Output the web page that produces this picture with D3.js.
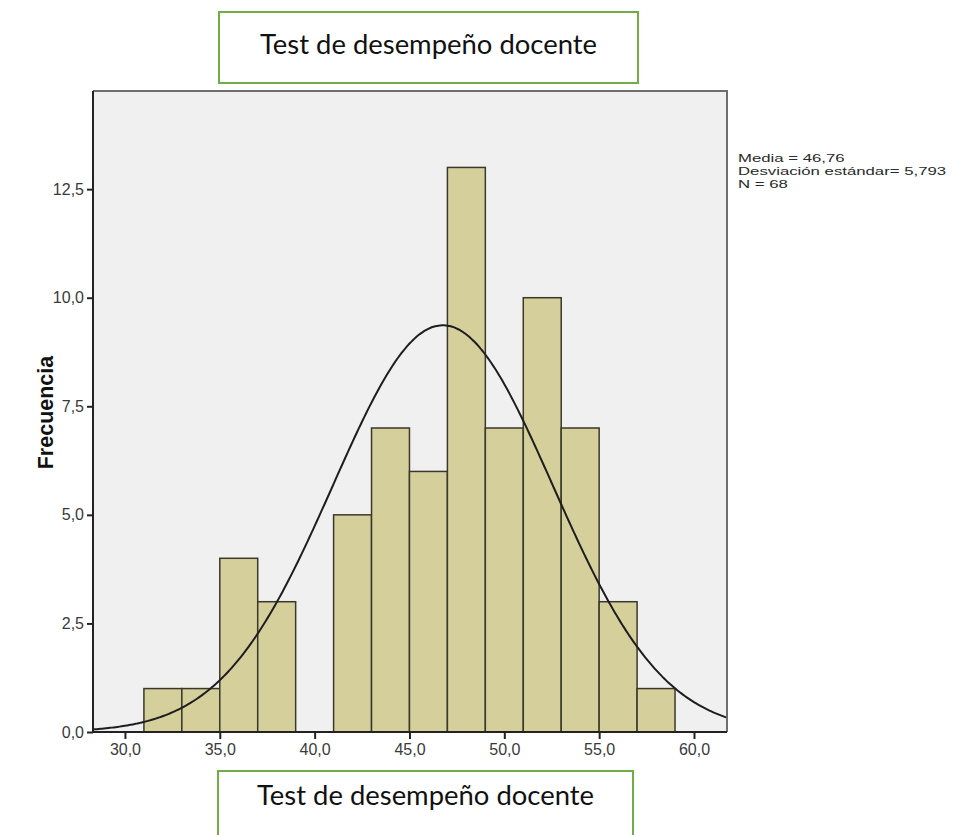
<!DOCTYPE html>
<html>
<head>
<meta charset="utf-8">
<script src="https://cdn.jsdelivr.net/npm/d3@7"></script>
<style>
  html, body { margin: 0; padding: 0; background: #fff; }
  svg { display: block; }
</style>
</head>
<body>
<svg id="chart" width="956" height="835"></svg>
<script>
// ---- data ----
const binStarts = [31, 33, 35, 37, 39, 41, 43, 45, 47, 49, 51, 53, 55, 57];
const counts    = [1, 1, 4, 3, 0, 5, 7, 6, 13, 7, 10, 7, 3, 1];
const binWidth = 2;
const xTicks = [30, 35, 40, 45, 50, 55, 60];
const yTicks = [0, 2.5, 5, 7.5, 10, 12.5];
const statMean = 46.76;
const statSd = 5.793;
const statN = 68;
const legendLines = ["Media = 46,76", "Desviación estándar= 5,793", "N = 68"];
const titleText = "Test de desempeño docente";
const yLabel = "Frecuencia";

// ---- layout ----
const svg = d3.select("#chart");
const plot = { left: 93, top: 91, right: 727, bottom: 732 };
const x = d3.scaleLinear().domain([28.316, 61.74]).range([plot.left, plot.right]);
const y = d3.scaleLinear().domain([0, 14.76]).range([plot.bottom, plot.top]);
const fmt = v => d3.format(".1f")(v).replace(".", ",");

// plot background
svg.append("rect")
  .attr("x", plot.left).attr("y", plot.top)
  .attr("width", plot.right - plot.left).attr("height", plot.bottom - plot.top)
  .attr("fill", "#f0f0f0");

// clip
svg.append("clipPath").attr("id", "clip").append("rect")
  .attr("x", plot.left).attr("y", plot.top)
  .attr("width", plot.right - plot.left).attr("height", plot.bottom - plot.top);

// bars
const bars = binStarts.map((s, i) => ({ s, c: counts[i] })).filter(d => d.c > 0);
svg.append("g").selectAll("rect").data(bars).join("rect")
  .attr("x", d => x(d.s))
  .attr("y", d => y(d.c))
  .attr("width", d => x(d.s + binWidth) - x(d.s))
  .attr("height", d => y(0) - y(d.c))
  .attr("fill", "#d4cf9b")
  .attr("stroke", "#3b392a")
  .attr("stroke-width", 1.5);

// normal curve from the chart's stated statistics
const curvePts = d3.range(x.domain()[0], x.domain()[1] + 0.05, 0.1).map(v => {
  const z = (v - statMean) / statSd;
  return [v, statN * binWidth * Math.exp(-0.5 * z * z) / (statSd * Math.sqrt(2 * Math.PI))];
});
svg.append("path")
  .datum(curvePts)
  .attr("clip-path", "url(#clip)")
  .attr("fill", "none")
  .attr("stroke", "#1e1e1e")
  .attr("stroke-width", 2)
  .attr("d", d3.line().x(d => x(d[0])).y(d => y(d[1])).curve(d3.curveBasis));

// frame: top/right gray
svg.append("path")
  .attr("d", `M${plot.left},${plot.top}H${plot.right}V${plot.bottom}`)
  .attr("fill", "none").attr("stroke", "#6e6e6e").attr("stroke-width", 2);

// axes
const xAxis = d3.axisBottom(x).tickValues(xTicks).tickFormat(fmt).tickSize(7).tickSizeOuter(0);
const yAxis = d3.axisLeft(y).tickValues(yTicks).tickFormat(fmt).tickSize(6).tickSizeOuter(0);

const gx = svg.append("g").attr("transform", `translate(0,${plot.bottom})`).call(xAxis);
const gy = svg.append("g").attr("transform", `translate(${plot.left},0)`).call(yAxis);
[gx, gy].forEach(g => {
  g.select(".domain").attr("stroke", "#222").attr("stroke-width", 2);
  g.selectAll(".tick line").attr("stroke", "#222").attr("stroke-width", 2);
  g.selectAll(".tick text")
    .attr("fill", "#3a3a3a")
    .style("font-family", "'Liberation Sans', Arial, sans-serif")
    .style("font-size", "16px");
});
gx.select(".domain").attr("d", `M${plot.left},0H${plot.right}`);
gy.select(".domain").attr("d", `M0,${plot.top}V${plot.bottom}`);
gx.selectAll(".tick text").attr("dy", "0.95em").attr("y", 8);
gy.selectAll(".tick text").attr("x", -9);

// y label
svg.append("text")
  .attr("transform", `translate(53,${(plot.top + plot.bottom) / 2 + 1}) rotate(-90)`)
  .attr("text-anchor", "middle")
  .style("font-family", "'Liberation Sans', Arial, sans-serif")
  .style("font-weight", "bold")
  .style("font-size", "21.5px")
  .attr("fill", "#111")
  .text(yLabel);

// legend stats (widened horizontally like the reference rendering)
const legend = svg.append("g")
  .attr("transform", "translate(738,162) scale(1.42,1)")
  .style("font-family", "'Liberation Sans', Arial, sans-serif")
  .style("font-size", "11.8px")
  .attr("fill", "#2a2a2a");
legend.selectAll("text").data(legendLines).join("text")
  .attr("x", 0)
  .attr("y", (d, i) => i * 13.2)
  .text(d => d);

// title boxes
function titleBox(bx, by, bw, bh, baseline) {
  svg.append("rect")
    .attr("x", bx).attr("y", by).attr("width", bw).attr("height", bh)
    .attr("fill", "#fff").attr("stroke", "#70ad47").attr("stroke-width", 2);
  svg.append("text")
    .attr("x", bx + bw / 2).attr("y", baseline)
    .attr("text-anchor", "middle")
    .attr("textLength", 337).attr("lengthAdjust", "spacingAndGlyphs")
    .style("font-family", "Lato, 'Open Sans', sans-serif")
    .style("font-size", "26px")
    .attr("fill", "#111")
    .text(titleText);
}
titleBox(219, 12, 419, 71, 54);
titleBox(218, 771, 415, 80, 805);
</script>
</body>
</html>
